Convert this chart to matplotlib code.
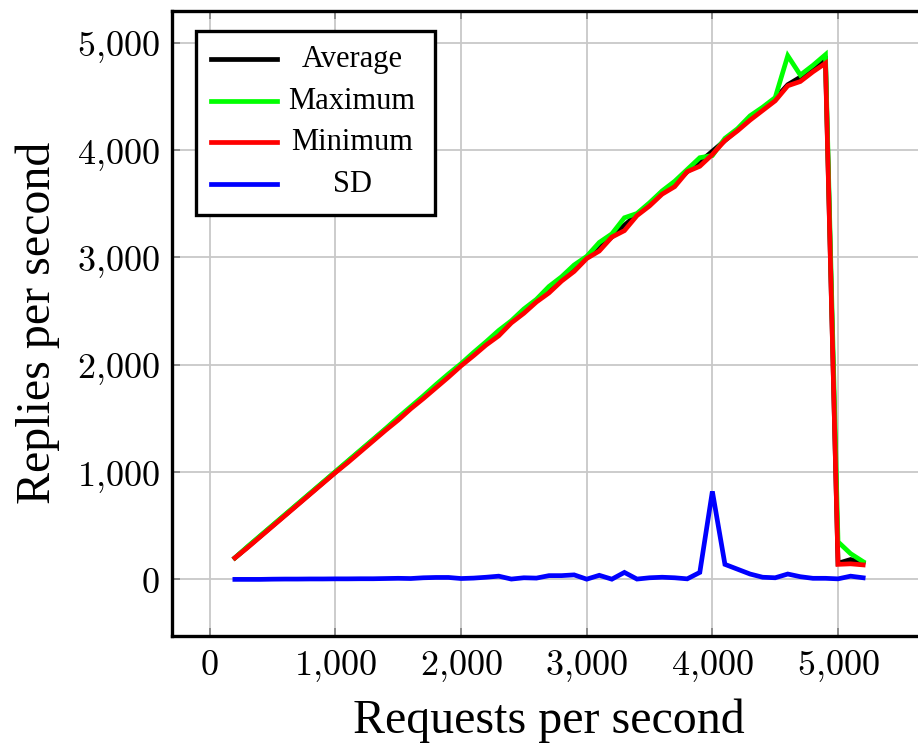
import numpy as np
import matplotlib.pyplot as plt
from matplotlib.lines import Line2D
from matplotlib.patches import Rectangle
from matplotlib.ticker import FuncFormatter

requests = list(range(200, 5300, 100))

average = [200, 300, 400, 500, 600, 700, 800, 900, 1000, 1100, 1200, 1300, 1400, 1500,
           1600, 1700, 1800, 1900, 2000, 2100, 2200, 2290, 2400, 2500, 2600, 2700, 2800,
           2900, 3000, 3100, 3190, 3300, 3400, 3500, 3600, 3690, 3800, 3890, 3990, 4090,
           4190, 4300, 4390, 4480, 4610, 4680, 4760, 4840, 150, 185, 155]
maximum = [200, 305, 405, 505, 605, 705, 805, 905, 1005, 1105, 1205, 1305, 1405, 1510,
           1610, 1710, 1815, 1915, 2010, 2115, 2215, 2320, 2410, 2520, 2610, 2730, 2820,
           2930, 3010, 3140, 3220, 3370, 3410, 3510, 3620, 3710, 3820, 3930, 3950, 4110,
           4200, 4320, 4400, 4490, 4880, 4700, 4790, 4890, 350, 240, 165]
minimum = [200, 295, 395, 495, 595, 695, 795, 895, 995, 1090, 1190, 1290, 1390, 1485,
           1590, 1685, 1785, 1885, 1990, 2085, 2185, 2270, 2390, 2480, 2585, 2670, 2780,
           2870, 2990, 3060, 3190, 3250, 3390, 3480, 3590, 3660, 3800, 3850, 3960, 4090,
           4180, 4280, 4370, 4460, 4600, 4640, 4730, 4810, 140, 145, 135]
sd = [0, 0, 0, 2, 3, 3, 4, 4, 5, 5, 6, 6, 8, 10, 8, 15, 18, 18, 8, 12, 20, 30, 3, 15,
      12, 35, 35, 42, 2, 38, 2, 65, 3, 15, 20, 15, 5, 65, 820, 140, 95, 50, 20, 15, 50,
      25, 10, 10, 5, 30, 15]

names = ['Average', 'Maximum', 'Minimum', 'SD']
colors = ['black', '#00ff00', '#ff0000', '#0000ff']
series = [average, maximum, minimum, sd]

plt.rcParams['mathtext.fontset'] = 'cm'

fig = plt.figure(figsize=(9.18, 7.51), dpi=100)
ax = fig.add_axes([0.1874, 0.1535, 0.8213, 0.8323])

for vals, c in zip(series, colors):
    ax.plot(requests, vals, color=c, lw=3.4, solid_joinstyle='miter')

ax.set_xlim(-300, 5700)
ax.set_ylim(-525, 5300)
ax.set_xticks([0, 1000, 2000, 3000, 4000, 5000])
ax.set_yticks([0, 1000, 2000, 3000, 4000, 5000])
fmt = FuncFormatter(lambda v, p: r'$%s$' % format(int(v), ',').replace(',', '{,}'))
ax.xaxis.set_major_formatter(fmt)
ax.yaxis.set_major_formatter(fmt)
ax.tick_params(direction='in', length=6, width=1.2, color='#808080', labelsize=26,
               top=True, right=True)
ax.tick_params(axis='x', pad=9)
ax.tick_params(axis='y', pad=9)
ax.grid(True, color='#c8c8c8', lw=1.3)
ax.set_axisbelow(True)
for s in ax.spines.values():
    s.set_linewidth(2.4)

ax.set_xlabel('Requests per second', family='Liberation Serif', fontsize=34.5, labelpad=10)
ax.set_ylabel('Replies per second', family='Liberation Serif', fontsize=34.5, labelpad=12)

# legend drawn by hand so labels are centred like pgfplots
ax.add_patch(Rectangle((0.0318, 0.673), 0.317, 0.2945, transform=ax.transAxes,
                       facecolor='white', edgecolor='black', lw=2.4, zorder=5))
rows = [0.9226, 0.8554, 0.7898, 0.7226]
for name, c, yy in zip(names, colors, rows):
    ax.add_line(Line2D([0.0517, 0.1393], [yy, yy], transform=ax.transAxes,
                       color=c, lw=3.4, zorder=6))
    ax.text(0.2387, yy, name, transform=ax.transAxes, ha='center', va='center',
            family='Liberation Serif', fontsize=22, zorder=6)

fig.savefig('out.png', dpi=100)
